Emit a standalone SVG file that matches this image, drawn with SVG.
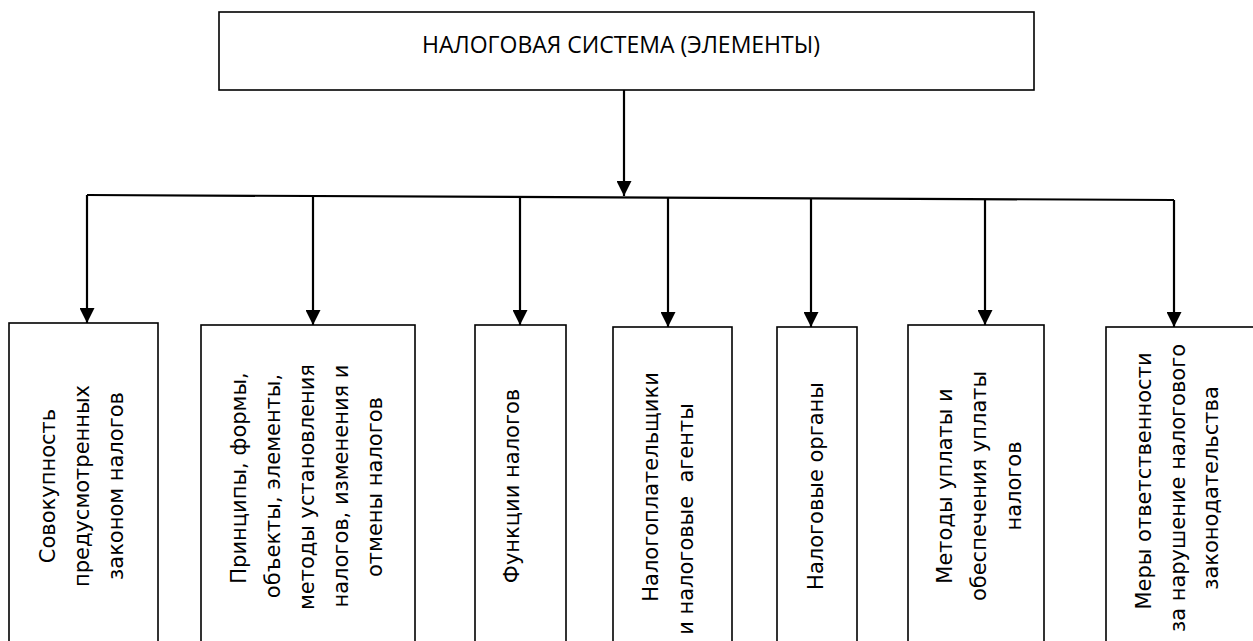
<svg xmlns="http://www.w3.org/2000/svg" width="1253" height="641" viewBox="0 0 1253 641">
<defs>
<style>
.box{fill:#fff;stroke:#000;stroke-width:1.6}
.title{font-family:"Open Sans","Liberation Sans",sans-serif;font-size:23px;fill:#000;text-anchor:middle}
.vt{font-family:"DejaVu Sans","Liberation Sans",sans-serif;font-size:21px;fill:#000;text-anchor:middle}
.con{stroke:#000;stroke-width:2.2;fill:none}
</style>
<marker id="arr" markerWidth="15" markerHeight="15" refX="15" refY="7.5" orient="auto" markerUnits="userSpaceOnUse">
<path d="M0,0 L15,7.5 L0,15 Z" fill="#000"/>
</marker>
</defs>
<rect width="1253" height="641" fill="#fff"/>

<g id="root">
<rect class="box" x="219" y="12" width="815" height="78"/>
<text class="title" x="621" y="53">НАЛОГОВАЯ СИСТЕМА (ЭЛЕМЕНТЫ)</text>
</g>

<g id="connectors">
<line class="con" x1="624" y1="90" x2="624" y2="196" marker-end="url(#arr)"/>
<line class="con" x1="87" y1="195" x2="1174" y2="200"/>
<line class="con" x1="87" y1="195" x2="87" y2="323" marker-end="url(#arr)"/>
<line class="con" x1="313" y1="196" x2="313" y2="325" marker-end="url(#arr)"/>
<line class="con" x1="520" y1="197" x2="520" y2="325" marker-end="url(#arr)"/>
<line class="con" x1="668" y1="198" x2="668" y2="327" marker-end="url(#arr)"/>
<line class="con" x1="811" y1="198" x2="811" y2="327" marker-end="url(#arr)"/>
<line class="con" x1="985" y1="199" x2="985" y2="325" marker-end="url(#arr)"/>
<line class="con" x1="1174" y1="200" x2="1174" y2="327" marker-end="url(#arr)"/>
</g>

<g id="n1">
<rect class="box" x="9" y="323" width="149" height="330"/>
<text class="vt" transform="translate(55,486) rotate(-90)">Совокупность</text>
<text class="vt" transform="translate(89,486) rotate(-90)">предусмотренных</text>
<text class="vt" transform="translate(123,486) rotate(-90)">законом налогов</text>
</g>

<g id="n2">
<rect class="box" x="201" y="325" width="214" height="330"/>
<text class="vt" transform="translate(246,478) rotate(-90)">Принципы, формы,</text>
<text class="vt" transform="translate(280,486) rotate(-90)">объекты, элементы,</text>
<text class="vt" transform="translate(314,487) rotate(-90)">методы установления</text>
<text class="vt" transform="translate(348,486) rotate(-90)">налогов, изменения и</text>
<text class="vt" transform="translate(382,487) rotate(-90)">отмены налогов</text>
</g>

<g id="n3">
<rect class="box" x="475" y="325" width="91" height="330"/>
<text class="vt" transform="translate(519,486) rotate(-90)">Функции налогов</text>
</g>

<g id="n4">
<rect class="box" x="613" y="327" width="119" height="330"/>
<text class="vt" transform="translate(658,487) rotate(-90)">Налогоплательщики</text>
<text class="vt" transform="translate(693,519) rotate(-90)" xml:space="preserve">и налоговые  агенты</text>
</g>

<g id="n5">
<rect class="box" x="777" y="327" width="80" height="330"/>
<text class="vt" transform="translate(823,486) rotate(-90)">Налоговые органы</text>
</g>

<g id="n6">
<rect class="box" x="908" y="325" width="136" height="330"/>
<text class="vt" transform="translate(952,486) rotate(-90)">Методы уплаты и</text>
<text class="vt" transform="translate(986,486) rotate(-90)">обеспечения уплаты</text>
<text class="vt" transform="translate(1021,486) rotate(-90)">налогов</text>
</g>

<g id="n7">
<rect class="box" x="1106" y="327" width="160" height="330"/>
<text class="vt" transform="translate(1151,481) rotate(-90)">Меры ответственности</text>
<text class="vt" transform="translate(1185,488) rotate(-90)">за нарушение налогового</text>
<text class="vt" transform="translate(1218,488) rotate(-90)">законодательства</text>
</g>
</svg>
